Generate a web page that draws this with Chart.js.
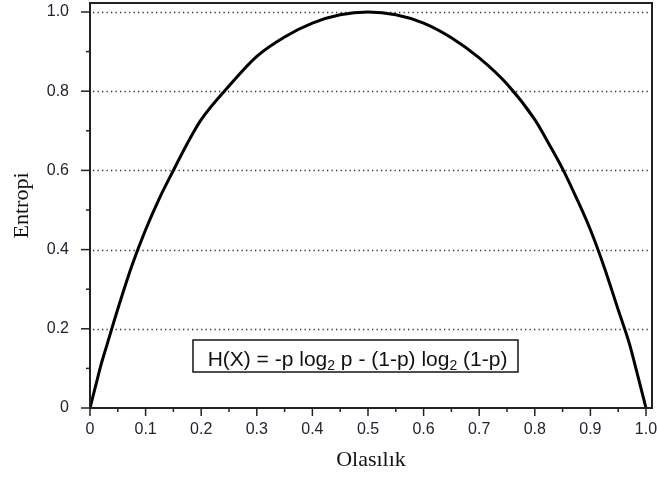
<!DOCTYPE html>
<html>
<head>
<meta charset="utf-8">
<script src="https://cdn.jsdelivr.net/npm/chart.js@4.4.1/dist/chart.umd.min.js"></script>
<style>
  html, body { margin: 0; padding: 0; background: #fff; }
  #wrap { width: 657px; height: 479px; }
</style>
</head>
<body>
<div id="wrap"><canvas id="EntropyChart" width="657" height="479"></canvas></div>
<script>
"use strict";

// values
const probValues = [0, 0.01, 0.02, 0.03, 0.05, 0.075, 0.1, 0.125, 0.15, 0.175, 0.2, 0.25, 0.3, 0.35, 0.4, 0.45, 0.5,
                    0.55, 0.6, 0.65, 0.7, 0.75, 0.8, 0.825, 0.85, 0.875, 0.9, 0.925, 0.95, 0.97, 0.98, 0.99, 1.0];
const entropyValues = [0, 0.055, 0.11, 0.157, 0.25, 0.358, 0.45, 0.53, 0.6, 0.668, 0.728, 0.813, 0.888, 0.937, 0.972, 0.993, 1.0,
                       0.993, 0.972, 0.935, 0.884, 0.818, 0.728, 0.668, 0.604, 0.53, 0.45, 0.355, 0.248, 0.163, 0.11, 0.055, 0];
const xTicks = [0, 0.05, 0.1, 0.15, 0.2, 0.25, 0.3, 0.35, 0.4, 0.45, 0.5, 0.55, 0.6, 0.65, 0.7, 0.75, 0.8, 0.85, 0.9, 0.95, 1.0];
const xTickLabels = ["0", "", "0.1", "", "0.2", "", "0.3", "", "0.4", "", "0.5", "", "0.6", "", "0.7", "", "0.8", "", "0.9", "", "1.0"];
const yTicks = [0, 0.1, 0.2, 0.3, 0.4, 0.5, 0.6, 0.7, 0.8, 0.9, 1.0];
const yTickLabels = ["0", "", "0.2", "", "0.4", "", "0.6", "", "0.8", "", "1.0"];
const xTitle = "Olasılık";
const yTitle = "Entropi";

function labelFor(list, labels, v) {
    let i = list.findIndex(t => Math.abs(t - v) < 1e-9);
    return i < 0 ? "" : labels[i];
}

// box, dotted grid lines, tick marks and the formula box
const framePlugin = {
    id: "frame",
    beforeDatasetsDraw(chart) {
        let ctx = chart.ctx, a = chart.chartArea;
        let ys = chart.scales.y;
        ctx.save();
        ctx.strokeStyle = "#333";
        ctx.lineWidth = 1.3;
        ctx.setLineDash([1.3, 3.2]);
        yTicks.forEach((v, i) => {
            if (v === 0 || yTickLabels[i] === "") return;
            let y = Math.round(ys.getPixelForValue(v)) + 0.5;
            ctx.beginPath();
            ctx.moveTo(a.left + 3, y);
            ctx.lineTo(a.right - 2, y);
            ctx.stroke();
        });
        ctx.restore();
    },
    afterDatasetsDraw(chart) {
        let ctx = chart.ctx, a = chart.chartArea;
        let xs = chart.scales.x, ys = chart.scales.y;
        ctx.save();
        ctx.strokeStyle = "#222";
        ctx.lineWidth = 2;
        ctx.strokeRect(a.left, a.top, a.right - a.left, a.bottom - a.top);
        ctx.lineWidth = 1.5;
        xTicks.forEach((v, i) => {
            let x = xs.getPixelForValue(v);
            let len = xTickLabels[i] === "" ? 4 : 8;
            ctx.beginPath();
            ctx.moveTo(x, a.bottom);
            ctx.lineTo(x, a.bottom + len);
            ctx.stroke();
        });
        yTicks.forEach((v, i) => {
            let y = ys.getPixelForValue(v);
            let len = yTickLabels[i] === "" ? 4 : 9;
            ctx.beginPath();
            ctx.moveTo(a.left, y);
            ctx.lineTo(a.left - len, y);
            ctx.stroke();
        });

        // formula
        let parts = [
            ["H(X) = -p log", false], ["2", true], [" p - (1-p) log", false], ["2", true], [" (1-p)", false]
        ];
        let big = "21px 'Liberation Sans', Arial, sans-serif";
        let small = "14px 'Liberation Sans', Arial, sans-serif";
        let w = 0;
        parts.forEach(p => { ctx.font = p[1] ? small : big; w += ctx.measureText(p[0]).width; });
        let bx = 193, by = 340, bw = 325, bh = 32;
        ctx.fillStyle = "#fff";
        ctx.fillRect(bx, by, bw, bh);
        ctx.strokeStyle = "#222";
        ctx.lineWidth = 1.6;
        ctx.strokeRect(bx, by, bw, bh);
        let tx = bx + (bw - w) / 2 + 2, base = by + 26;
        ctx.fillStyle = "#111";
        ctx.textBaseline = "alphabetic";
        parts.forEach(p => {
            ctx.font = p[1] ? small : big;
            ctx.fillText(p[0], tx, p[1] ? base + 4 : base);
            tx += ctx.measureText(p[0]).width;
        });
        ctx.restore();
    }
};

let entropyChart = new Chart(document.getElementById("EntropyChart"), {
    type: "line",
    data: {
        datasets: [{
            data: probValues.map((p, i) => ({ x: p, y: entropyValues[i] })),
            borderColor: "#000",
            borderWidth: 3,
            pointRadius: 0,
            fill: false,
            cubicInterpolationMode: "monotone"
        }]
    },
    options: {
        responsive: false,
        animation: false,
        layout: { padding: { top: 3, right: 5, left: 0, bottom: 0 } },
        plugins: { legend: { display: false }, tooltip: { enabled: false } },
        scales: {
            x: {
                type: "linear",
                min: 0,
                max: 1.0108,
                afterBuildTicks: s => { s.ticks = xTicks.map(v => ({ value: v })); },
                afterFit: s => { s.height = 71; s.paddingLeft = 0; s.paddingRight = 0; },
                grid: { display: false },
                border: { display: false },
                ticks: {
                    autoSkip: false,
                    maxRotation: 0,
                    padding: 4,
                    color: "#223",
                    font: { family: "'Liberation Sans', Arial, sans-serif", size: 16 },
                    callback: v => labelFor(xTicks, xTickLabels, v)
                },
                title: {
                    display: true,
                    text: xTitle,
                    color: "#111",
                    padding: { top: 0, bottom: 6 },
                    font: { family: "'Liberation Serif', 'Times New Roman', serif", size: 22 }
                }
            },
            y: {
                type: "linear",
                min: 0,
                max: 1.0227,
                afterBuildTicks: s => { s.ticks = yTicks.map(v => ({ value: v })); },
                afterFit: s => { s.width = 90; s.paddingTop = 0; s.paddingBottom = 0; },
                grid: { display: false },
                border: { display: false },
                ticks: {
                    autoSkip: false,
                    padding: 13,
                    color: "#223",
                    font: { family: "'Liberation Sans', Arial, sans-serif", size: 16 },
                    callback: v => labelFor(yTicks, yTickLabels, v)
                },
                title: {
                    display: true,
                    text: yTitle,
                    color: "#111",
                    padding: { top: 9, bottom: 0 },
                    font: { family: "'Liberation Serif', 'Times New Roman', serif", size: 22 }
                }
            }
        }
    },
    plugins: [framePlugin]
});
</script>
</body>
</html>
